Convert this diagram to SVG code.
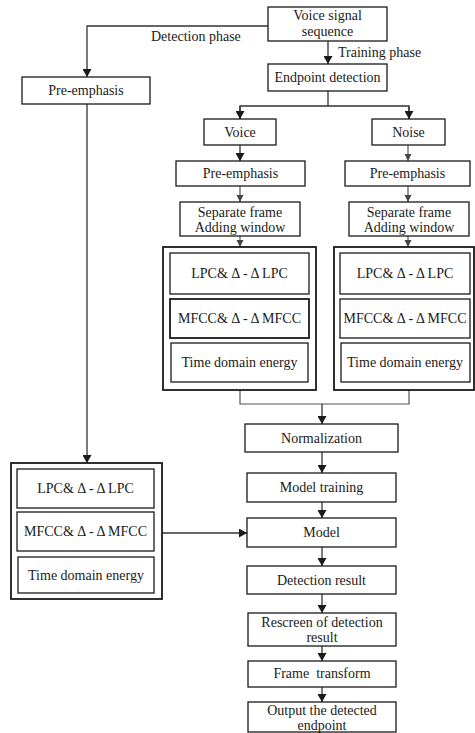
<svg xmlns="http://www.w3.org/2000/svg" width="475" height="733" viewBox="0 0 475 733">
<style>
.box{fill:#fff;stroke:#1a1a1a;stroke-width:1.3}
.outer{fill:#fff;stroke:#1a1a1a;stroke-width:1.8}
.t{font-family:"Liberation Serif","Times New Roman",serif;font-size:14px;fill:#1a1a1a;text-anchor:middle;white-space:pre}
.lbl{font-family:"Liberation Serif","Times New Roman",serif;font-size:14px;fill:#1a1a1a;text-anchor:start}
.ln{fill:none;stroke:#333;stroke-width:1.3}
.lg{fill:none;stroke:#555;stroke-width:1.2}
</style>
<defs>
<marker id="ah" markerUnits="userSpaceOnUse" markerWidth="9" markerHeight="9" refX="8" refY="4.5" orient="auto">
<path d="M0,0 L8,4.5 L0,9 Z" fill="#1a1a1a"/>
</marker>
<marker id="ahg" markerUnits="userSpaceOnUse" markerWidth="8" markerHeight="8" refX="7" refY="3.5" orient="auto">
<path d="M0,0 L7,3.5 L0,7 Z" fill="#444"/>
</marker>
</defs>

<g id="connectors">
<polyline class="ln" points="268,26 87,26 87,77" marker-end="url(#ah)"/>
<line class="ln" x1="328" y1="41" x2="328" y2="64" marker-end="url(#ah)"/>
<polyline class="ln" points="328,91 328,106"/>
<polyline class="ln" points="240,119 240,106 409,106 409,119"/>
<line class="ln" x1="240" y1="106" x2="240" y2="119" marker-end="url(#ah)"/>
<line class="ln" x1="409" y1="106" x2="409" y2="119" marker-end="url(#ah)"/>
<line class="ln" x1="240" y1="145" x2="240" y2="161" marker-end="url(#ah)"/>
<line class="lg" x1="408" y1="145" x2="408" y2="161" marker-end="url(#ahg)"/>
<line class="lg" x1="240" y1="186" x2="240" y2="202" marker-end="url(#ahg)"/>
<line class="lg" x1="408" y1="186" x2="408" y2="202" marker-end="url(#ahg)"/>
<line class="lg" x1="240" y1="236" x2="240" y2="247" marker-end="url(#ahg)"/>
<line class="lg" x1="408" y1="236" x2="408" y2="247" marker-end="url(#ahg)"/>
<polyline class="lg" points="240,390 240,404 409,404 409,390"/>
<line class="ln" x1="322" y1="404" x2="322" y2="424" marker-end="url(#ah)"/>
<line class="ln" x1="322" y1="452" x2="322" y2="473" marker-end="url(#ah)"/>
<line class="ln" x1="322" y1="502" x2="322" y2="518" marker-end="url(#ah)"/>
<line class="ln" x1="322" y1="547" x2="322" y2="566" marker-end="url(#ah)"/>
<line class="ln" x1="322" y1="594" x2="322" y2="613" marker-end="url(#ah)"/>
<line class="ln" x1="322" y1="646" x2="322" y2="661" marker-end="url(#ah)"/>
<line class="ln" x1="322" y1="687" x2="322" y2="702" marker-end="url(#ah)"/>
<line class="ln" x1="87" y1="104" x2="87" y2="463" marker-end="url(#ah)"/>
<line class="ln" x1="162" y1="533" x2="247" y2="533" marker-end="url(#ah)"/>
<text class="lbl" x="151" y="41">Detection phase</text>
<text class="lbl" x="338" y="57">Training phase</text>
</g>

<g id="voice-signal"><rect class="box" x="268" y="7" width="119" height="34"/>
<text class="t" x="327.5" y="20">Voice signal</text><text class="t" x="327.5" y="36">sequence</text></g>

<g id="endpoint-detection"><rect class="box" x="268" y="64" width="119" height="27"/>
<text class="t" x="327.5" y="82">Endpoint detection</text></g>

<g id="pre-emphasis-left"><rect class="box" x="22" y="77" width="128" height="27"/>
<text class="t" x="86" y="95">Pre-emphasis</text></g>

<g id="voice"><rect class="box" x="204" y="119" width="72" height="26"/>
<text class="t" x="240" y="137">Voice</text></g>

<g id="noise"><rect class="box" x="372" y="119" width="73" height="26"/>
<text class="t" x="408.5" y="137">Noise</text></g>

<g id="pre-emphasis-voice"><rect class="box" x="176" y="161" width="129" height="25"/>
<text class="t" x="240.5" y="178">Pre-emphasis</text></g>

<g id="pre-emphasis-noise"><rect class="box" x="345" y="161" width="125" height="25"/>
<text class="t" x="407.5" y="178">Pre-emphasis</text></g>

<g id="frame-voice"><rect class="box" x="180" y="202" width="120" height="34"/>
<text class="t" x="240" y="217">Separate frame</text><text class="t" x="240" y="232">Adding window</text></g>

<g id="frame-noise"><rect class="box" x="349" y="202" width="120" height="34"/>
<text class="t" x="409" y="217">Separate frame</text><text class="t" x="409" y="232">Adding window</text></g>

<g id="features-voice">
<rect class="outer" x="163" y="247" width="153" height="143"/>
<rect class="box" x="170" y="253" width="139" height="41"/>
<text class="t" x="239.5" y="278">LPC&amp; Δ - Δ LPC</text>
<rect class="outer" x="170" y="299" width="139" height="39"/>
<text class="t" x="239.5" y="323">MFCC&amp; Δ - Δ MFCC</text>
<rect class="box" x="171" y="343" width="137" height="39"/>
<text class="t" x="239.5" y="367">Time domain energy</text>
</g>

<g id="features-noise">
<rect class="outer" x="334" y="247" width="140" height="143"/>
<rect class="box" x="340" y="253" width="130" height="41"/>
<text class="t" x="405" y="278">LPC&amp; Δ - Δ LPC</text>
<rect class="box" x="340" y="299" width="130" height="39"/>
<text class="t" x="405" y="323">MFCC&amp; Δ - Δ MFCC</text>
<rect class="box" x="341" y="343" width="129" height="39"/>
<text class="t" x="405" y="367">Time domain energy</text>
</g>

<g id="features-left">
<rect class="outer" x="11" y="463" width="151" height="136"/>
<rect class="box" x="17" y="469" width="137" height="39"/>
<text class="t" x="85.5" y="493">LPC&amp; Δ - Δ LPC</text>
<rect class="box" x="17" y="512" width="137" height="39"/>
<text class="t" x="85.5" y="536">MFCC&amp; Δ - Δ MFCC</text>
<rect class="box" x="18" y="557" width="136" height="36"/>
<text class="t" x="86" y="580">Time domain energy</text>
</g>

<g id="normalization"><rect class="box" x="245" y="424" width="153" height="28"/>
<text class="t" x="321.5" y="443">Normalization</text></g>

<g id="model-training"><rect class="box" x="247" y="473" width="149" height="29"/>
<text class="t" x="321.5" y="492">Model training</text></g>

<g id="model"><rect class="box" x="247" y="518" width="149" height="29"/>
<text class="t" x="321.5" y="537">Model</text></g>

<g id="detection-result"><rect class="box" x="247" y="566" width="149" height="28"/>
<text class="t" x="321.5" y="585">Detection result</text></g>

<g id="rescreen"><rect class="box" x="248" y="613" width="148" height="33"/>
<text class="t" x="322" y="627">Rescreen of detection</text><text class="t" x="322" y="642">result</text></g>

<g id="frame-transform"><rect class="box" x="248" y="661" width="148" height="26"/>
<text class="t" x="322" y="678">Frame  transform</text></g>

<g id="output"><rect class="box" x="248" y="702" width="148" height="30"/>
<text class="t" x="322" y="715">Output the detected</text><text class="t" x="322" y="730">endpoint</text></g>
</svg>
